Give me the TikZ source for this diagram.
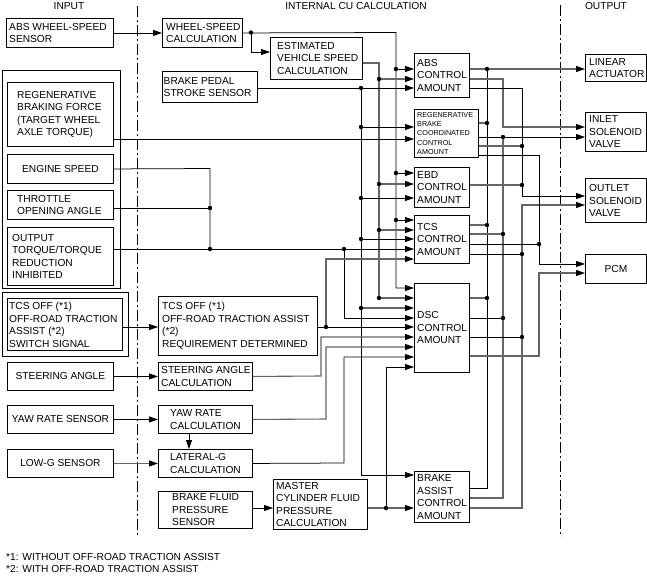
\documentclass[tikz,border=0pt]{standalone}
\usepackage{fontspec}
\setmainfont{Liberation Sans}
\usetikzlibrary{arrows.meta}

\begin{document}
\begin{tikzpicture}[x=1pt, y=-1pt,
  every node/.style={font=\fontsize{10.2}{12.5}\selectfont},
  blk/.style={draw, line width=0.9pt, anchor=north west, inner sep=0pt},
  txt/.style={anchor=west, align=left, inner sep=0pt},
  ctxt/.style={align=center, inner sep=0pt},
  bw/.style={draw=black, line width=0.75pt},
  gw/.style={draw=black!60, line width=1.1pt},
  tip/.style={-{Triangle[length=9pt, width=6pt, color=black]}},
  divider/.style={line width=0.8pt, dash pattern=on 11pt off 3pt on 2pt off 3pt}]

\useasboundingbox (0,0) rectangle (647,576);

\node (hin) at (69,6) {INPUT}; % heading
\node (hcu) at (356,6) {INTERNAL CU CALCULATION}; % heading
\node (hout) at (606,6) {OUTPUT}; % heading
\draw[divider] (137,6) -- (137,537); % input | cu
\draw[divider] (560,5) -- (560,537); % cu | output

% input column
\node[blk, minimum width=107pt, minimum height=29pt] (abssen) at (6,18) {};
\node[txt] (abssenT) at ([xshift=3pt]abssen.west) {ABS WHEEL-SPEED\\SENSOR};
\node[blk, minimum width=118pt, minimum height=218pt] (grpa) at (2,70) {};
\node[blk, minimum width=106pt, minimum height=64pt] (regf) at (7,82) {};
\node[txt] (regfT) at ([xshift=10pt]regf.west) {REGENERATIVE\\BRAKING FORCE\\(TARGET WHEEL\\AXLE TORQUE)};
\node[blk, minimum width=106pt, minimum height=29pt] (engspd) at (7,154) {};
\node[ctxt] (engspdT) at (engspd.center) {ENGINE SPEED};
\node[blk, minimum width=106pt, minimum height=29pt] (thr) at (7,190) {};
\node[txt] (thrT) at ([xshift=10pt]thr.west) {THROTTLE\\OPENING ANGLE};
\node[blk, minimum width=106pt, minimum height=58pt] (outtq) at (7,227) {};
\node[txt] (outtqT) at ([xshift=5pt]outtq.west) {OUTPUT\\TORQUE/TORQUE\\REDUCTION\\INHIBITED};
\node[blk, minimum width=126pt, minimum height=64pt] (grpb) at (2,292) {};
\node[blk, line width=1.3pt, minimum width=115pt, minimum height=52pt] (tcssw) at (7,298) {};
\node[txt] (tcsswT) at ([xshift=2pt]tcssw.west) {TCS OFF (*1)\\OFF-ROAD TRACTION\\ASSIST (*2)\\SWITCH SIGNAL};
\node[blk, minimum width=106pt, minimum height=28pt] (steer) at (7,362) {};
\node[ctxt] (steerT) at (steer.center) {STEERING ANGLE};
\node[blk, minimum width=106pt, minimum height=28pt] (yawsen) at (7,405) {};
\node[ctxt] (yawsenT) at (yawsen.center) {YAW RATE SENSOR};
\node[blk, minimum width=106pt, minimum height=28pt] (lowg) at (7,449) {};
\node[ctxt] (lowgT) at (lowg.center) {LOW-G SENSOR};

% calculation column
\node[blk, minimum width=80pt, minimum height=29pt] (wsc) at (162,18) {};
\node[txt] (wscT) at ([xshift=4pt]wsc.west) {WHEEL-SPEED\\CALCULATION};
\node[blk, minimum width=92pt, minimum height=42pt] (evs) at (270,37) {};
\node[txt] (evsT) at ([xshift=7pt]evs.west) {ESTIMATED\\VEHICLE SPEED\\CALCULATION};
\node[blk, minimum width=95pt, minimum height=31pt] (bps) at (162,71) {};
\node[txt] (bpsT) at ([xshift=1.5pt]bps.west) {BRAKE PEDAL\\STROKE SENSOR};
\node[blk, minimum width=159pt, minimum height=59pt] (tcsreq) at (158,296) {};
\node[txt] (tcsreqT) at ([xshift=4pt]tcsreq.west) {TCS OFF (*1)\\OFF-ROAD TRACTION ASSIST\\(*2)\\REQUIREMENT DETERMINED};
\node[blk, minimum width=94pt, minimum height=28pt] (stc) at (158,362) {};
\node[txt] (stcT) at ([xshift=3pt]stc.west) {STEERING ANGLE\\CALCULATION};
\node[blk, minimum width=94pt, minimum height=28pt] (yrc) at (158,405) {};
\node[txt] (yrcT) at ([xshift=12pt]yrc.west) {YAW RATE\\CALCULATION};
\node[blk, minimum width=94pt, minimum height=28pt] (lgc) at (158,449) {};
\node[txt] (lgcT) at ([xshift=12pt]lgc.west) {LATERAL-G\\CALCULATION};
\node[blk, minimum width=94pt, minimum height=37pt] (bfps) at (158,491) {};
\node[txt] (bfpsT) at ([xshift=14pt]bfps.west) {BRAKE FLUID\\PRESSURE\\SENSOR};
\node[blk, minimum width=94pt, minimum height=50pt] (mcp) at (273,479) {};
\node[txt] (mcpT) at ([xshift=3pt]mcp.west) {MASTER\\CYLINDER FLUID\\PRESSURE\\CALCULATION};

% control amounts
\node[blk, minimum width=55pt, minimum height=44pt] (abs) at (414,53) {};
\node[txt] (absT) at ([xshift=3pt]abs.west) {ABS\\CONTROL\\AMOUNT};
\node[blk, minimum width=64pt, minimum height=48pt] (rbc) at (414,109) {};
\node[txt, font=\fontsize{7.2}{9.3}\selectfont] (rbcT) at ([xshift=3pt]rbc.west) {REGENERATIVE\\BRAKE\\COORDINATED\\CONTROL\\AMOUNT};
\node[blk, minimum width=55pt, minimum height=40pt] (ebd) at (414,167) {};
\node[txt] (ebdT) at ([xshift=3pt]ebd.west) {EBD\\CONTROL\\AMOUNT};
\node[blk, minimum width=55pt, minimum height=48pt] (tcs) at (414,215) {};
\node[txt] (tcsT) at ([xshift=3pt]tcs.west) {TCS\\CONTROL\\AMOUNT};
\node[blk, minimum width=55pt, minimum height=89pt] (dsc) at (414,283) {};
\node[txt] (dscT) at ([xshift=3pt]dsc.west) {DSC\\CONTROL\\AMOUNT};
\node[blk, minimum width=55pt, minimum height=51pt] (ba) at (414,471) {};
\node[txt] (baT) at ([xshift=3pt]ba.west) {BRAKE\\ASSIST\\CONTROL\\AMOUNT};

% output column
\node[blk, minimum width=61pt, minimum height=27pt] (lin) at (585,54) {};
\node[txt] (linT) at ([xshift=4pt]lin.west) {LINEAR\\ACTUATOR};
\node[blk, minimum width=61pt, minimum height=39pt] (inlet) at (585,112) {};
\node[txt] (inletT) at ([xshift=4pt]inlet.west) {INLET\\SOLENOID\\VALVE};
\node[blk, minimum width=61pt, minimum height=44pt] (outlet) at (585,178) {};
\node[txt] (outletT) at ([xshift=4pt]outlet.west) {OUTLET\\SOLENOID\\VALVE};
\node[blk, minimum width=61pt, minimum height=29pt] (pcm) at (585,254) {};
\node[ctxt] (pcmT) at (pcm.center) {PCM};

% inputs -> calculations
\draw[bw, tip] (abssen.east) -- (wsc.west);
\draw[bw, tip] (steer.east) -- (stc.west);
\draw[bw, tip] (yawsen.east) -- (yrc.west);
\draw[gw, tip] (lowg.east) -- (lgc.west);
\draw[bw, tip] (tcssw.east |- 0,327) -- (tcsreq.west |- 0,327);
\draw[bw, tip] (yrc.south -| 189,0) -- (lgc.north -| 189,0);
\draw[bw, tip] (bfps.east |- 0,508) -- (mcp.west |- 0,508);

% wheel speed rail
\draw[bw, tip] (wsc.east) -- (396,32.5) -- (396,288) -- (dsc.west |- 0,288);
\draw[bw, tip] (251,32.5) -- (251,52) -- (evs.west |- 0,52);
\draw[bw, tip] (396,69) -- (abs.west |- 0,69);
\draw[bw, tip] (396,173) -- (ebd.west |- 0,173);
\draw[bw, tip] (396,220) -- (tcs.west |- 0,220);
\fill (251,32.5) circle (2.2pt);
\fill (396,69) circle (2.2pt);
\fill (396,173) circle (2.2pt);
\fill (396,220) circle (2.2pt);

% vehicle speed rail
\draw[gw, tip] (evs.east |- 0,63) -- (379,63) -- (379,298) -- (dsc.west |- 0,298);
\draw[gw, tip] (379,79) -- (abs.west |- 0,79);
\draw[gw, tip] (379,184) -- (ebd.west |- 0,184);
\draw[gw, tip] (379,230) -- (tcs.west |- 0,230);
\fill (379,79) circle (2.2pt);
\fill (379,184) circle (2.2pt);
\fill (379,230) circle (2.2pt);
\fill (379,298) circle (2.2pt);

% brake pedal rail
\draw[bw, tip] (bps.east |- 0,88) -- (abs.west |- 0,88);
\draw[bw, tip] (361,88) -- (361,475) -- (ba.west |- 0,475);
\draw[bw, tip] (361,127) -- (rbc.west |- 0,127);
\draw[bw, tip] (361,198) -- (ebd.west |- 0,198);
\draw[bw, tip] (361,239) -- (tcs.west |- 0,239);
\draw[gw, tip] (361,308) -- (dsc.west |- 0,308);
\fill (361,88) circle (2.2pt);
\fill (361,127) circle (2.2pt);
\fill (361,198) circle (2.2pt);
\fill (361,239) circle (2.2pt);
\fill (361,308) circle (2.2pt);

% regenerative force, engine signals
\draw[bw, tip] (regf.east |- 0,139) -- (rbc.west |- 0,139);
\draw[bw] (engspd.east) -- (210,168.5) -- (210,249);
\draw[bw] (thr.east |- 0,208) -- (210,208);
\draw[bw, tip] (outtq.east |- 0,249) -- (tcs.west |- 0,249);
\draw[bw, tip] (344,249) -- (344,318) -- (dsc.west |- 0,318);
\fill (210,208) circle (2.2pt);
\fill (210,249) circle (2.2pt);
\fill (344,249) circle (2.2pt);

% tcs off, steering, yaw, lateral, master cylinder
\draw[bw, tip] (tcsreq.east |- 0,327) -- (dsc.west |- 0,327);
\draw[gw, tip] (326,327) -- (326,259) -- (tcs.west |- 0,259);
\fill (326,327) circle (2.2pt);
\draw[gw, tip] (stc.east) -- (321,376) -- (321,337) -- (dsc.west |- 0,337);
\draw[gw, tip] (yrc.east) -- (326,419) -- (326,347) -- (dsc.west |- 0,347);
\draw[bw, tip] (lgc.east) -- (344,463) -- (344,357) -- (dsc.west |- 0,357);
\draw[gw, tip] (mcp.east |- 0,508) -- (ba.west |- 0,508);
\draw[bw, tip] (386,508) -- (386,367) -- (dsc.west |- 0,367);
\fill (386,508) circle (2.2pt);

% linear actuator rail
\draw[gw, tip] (abs.east |- 0,69) -- (lin.west |- 0,69);
\draw[bw] (487,69) -- (487,488) -- (ba.east |- 0,488);
\draw[gw] (rbc.east |- 0,123) -- (487,123);
\draw[gw] (tcs.east |- 0,225) -- (487,225);
\draw[gw] (dsc.east |- 0,298) -- (487,298);
\fill (487,69) circle (2.2pt);
\fill (487,123) circle (2.2pt);
\fill (487,225) circle (2.2pt);
\fill (487,298) circle (2.2pt);

% inlet rail
\draw[gw, tip] (abs.east |- 0,79) -- (503,79) -- (503,127) -- (inlet.west |- 0,127);
\draw[bw, tip] (rbc.east |- 0,137) -- (inlet.west |- 0,137);
\draw[gw] (503,137) -- (503,498) -- (ba.east |- 0,498);
\draw[gw] (tcs.east |- 0,234) -- (503,234);
\draw[bw] (dsc.east |- 0,318) -- (503,318);
\fill (503,137) circle (2.2pt);
\fill (503,234) circle (2.2pt);
\fill (503,318) circle (2.2pt);

% outlet rails
\draw[bw, tip] (abs.east |- 0,88) -- (522,88) -- (522,196) -- (outlet.west |- 0,196);
\draw[gw] (rbc.east |- 0,146) -- (522,146);
\draw[gw] (ebd.east |- 0,185) -- (522,185);
\fill (522,146) circle (2.2pt);
\fill (522,185) circle (2.2pt);
\draw[gw, tip] (ba.east |- 0,508) -- (522,508) -- (522,205) -- (outlet.west |- 0,205);
\draw[bw] (tcs.east |- 0,254) -- (522,254);
\draw[bw] (dsc.east |- 0,337) -- (522,337);
\fill (522,254) circle (2.2pt);
\fill (522,337) circle (2.2pt);

% pcm rails
\draw[bw, tip] (rbc.east |- 0,155) -- (539,155) -- (539,264) -- (pcm.west |- 0,264);
\draw[bw] (tcs.east |- 0,244) -- (539,244);
\fill (539,244) circle (2.2pt);
\draw[gw, tip] (dsc.east |- 0,356) -- (539,356) -- (539,273) -- (pcm.west |- 0,273);

% notes
\node[anchor=west, inner sep=0pt] (fn1) at (6,557) {*1: WITHOUT OFF-ROAD TRACTION ASSIST};
\node[anchor=west, inner sep=0pt] (fn2) at (6,569) {*2: WITH OFF-ROAD TRACTION ASSIST};

\end{tikzpicture}
\end{document}
